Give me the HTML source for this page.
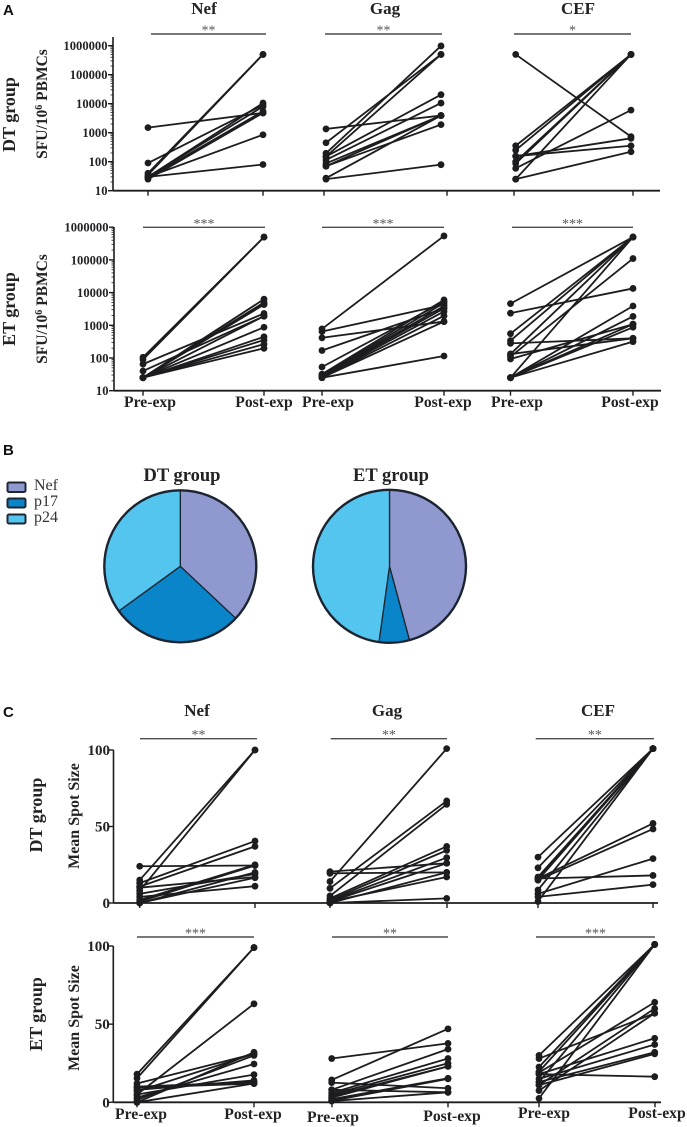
<!DOCTYPE html>
<html lang="en">
<head>
<meta charset="utf-8">
<title>T cell responses pre and post exposure</title>
<style>
html,body{margin:0;padding:0;background:#fff;}
svg{display:block;}
text{font-family:"Liberation Serif",serif;fill:#232326;}
.b{font-weight:bold;}
.letter{font-family:"Liberation Sans",sans-serif;font-weight:bold;font-size:15px;fill:#111;}
.star{font-size:14px;fill:#555;text-anchor:middle;}
.title{font-size:17px;font-weight:bold;text-anchor:middle;}
.group{font-size:18px;font-weight:bold;text-anchor:middle;}
.yl{font-size:15.5px;font-weight:bold;text-anchor:middle;}
.xl{font-size:15.7px;font-weight:bold;text-anchor:middle;}
.leg{font-size:16px;fill:#333;}
</style>
</head>
<body>
<svg id="fig" xmlns="http://www.w3.org/2000/svg" width="687" height="1127" viewBox="0 0 687 1127">
  <text class="letter" x="3" y="15">A</text>
  <text class="letter" x="3" y="455">B</text>
  <text class="letter" x="3" y="717">C</text>

  <text class="title" x="204" y="14">Nef</text>
  <text class="title" x="385" y="14">Gag</text>
  <text class="title" x="578" y="14">CEF</text>
  <text class="title" x="197" y="716">Nef</text>
  <text class="title" x="387" y="716">Gag</text>
  <text class="title" x="598" y="716">CEF</text>

  <text class="group" transform="translate(15 114.5) rotate(-90)">DT group</text>
  <text class="group" transform="translate(15 309) rotate(-90)">ET group</text>
  <text class="group" transform="translate(42 815) rotate(-90)">DT group</text>
  <text class="group" transform="translate(42 1014) rotate(-90)">ET group</text>

  <text class="yl" transform="translate(47 104) rotate(-90)">SFU/10<tspan font-size="10" dy="-5">6</tspan><tspan dy="5"> PBMCs</tspan></text>
  <text class="yl" transform="translate(47 309) rotate(-90)">SFU/10<tspan font-size="10" dy="-5">6</tspan><tspan dy="5"> PBMCs</tspan></text>
  <text class="yl" style="font-size:16px" transform="translate(79 816) rotate(-90)">Mean Spot Size</text>
  <text class="yl" style="font-size:16px" transform="translate(79 1018) rotate(-90)">Mean Spot Size</text>

  <text class="xl" x="150" y="407">Pre-exp</text>
  <text class="xl" x="264" y="407">Post-exp</text>
  <text class="xl" x="328" y="407">Pre-exp</text>
  <text class="xl" x="443" y="407">Post-exp</text>
  <text class="xl" x="517" y="407">Pre-exp</text>
  <text class="xl" x="630" y="407">Post-exp</text>
  <text class="xl" x="141" y="1119">Pre-exp</text>
  <text class="xl" x="253" y="1119">Post-exp</text>
  <text class="xl" x="333" y="1122">Pre-exp</text>
  <text class="xl" x="452" y="1121">Post-exp</text>
  <text class="xl" x="544" y="1118">Pre-exp</text>
  <text class="xl" x="657" y="1118">Post-exp</text>

  <text class="b" style="font-size:18.5px;text-anchor:middle" x="182" y="481">DT group</text>
  <text class="b" style="font-size:18.5px;text-anchor:middle" x="391" y="481">ET group</text>

  <rect x="7.5" y="482.5" width="18" height="9.5" rx="1.5" fill="#8f99cf" stroke="#1e2733" stroke-width="2"/>
  <rect x="7.5" y="498.5" width="18" height="9" rx="1.5" fill="#0a85c9" stroke="#1e2733" stroke-width="2"/>
  <rect x="7.5" y="514.5" width="18" height="9" rx="1.5" fill="#54c5ee" stroke="#1e2733" stroke-width="2"/>
  <text class="leg" x="34" y="490">Nef</text>
  <text class="leg" x="34" y="506">p17</text>
  <text class="leg" x="34" y="522">p24</text>
</svg>
<script>
// ---- chart data ----
const logTicks = [10, 100, 1000, 10000, 100000, 1000000];
const logTickLabels = ['10', '100', '1000', '10000', '100000', '1000000'];
const linTicks = [0, 50, 100];
const linTickLabels = ['0', '50', '100'];
const pieKeys = ['nef', 'p17', 'p24'];
const pieColors = ['#8f99cf', '#0a85c9', '#54c5ee'];
const pieDt = [37, 28, 35];
const pieEt = [45.8, 6.4, 47.8];

const aDtNefPre  = [1500, 90, 40, 35, 30, 30, 28, 25, 30, 30];
const aDtNefPost = [4800, 9000, 500000, 500000, 10500, 8000, 5500, 4800, 850, 80];
const aDtGagPre  = [1350, 450, 195, 150, 150, 115, 87, 70, 70, 27, 25];
const aDtGagPost = [3900, 500000, 980000, 500000, 20500, 10500, 3900, 3900, 1900, 3900, 79];
const aDtCefPre  = [500000, 355, 250, 155, 155, 100, 87, 59, 25, 25];
const aDtCefPost = [730, 500000, 500000, 640, 355, 500000, 500000, 6000, 500000, 220];

const aEtNefPre  = [105, 90, 65, 40, 25, 25, 25, 25, 25, 25, 25, 25, 25, 25];
const aEtNefPost = [500000, 500000, 2300, 1900, 6300, 5000, 4500, 4300, 1900, 870, 445, 355, 265, 198];
const aEtGagPre  = [775, 645, 415, 170, 53, 32, 30, 28, 27, 26, 25, 25, 25];
const aEtGagPost = [540000, 4200, 1300, 3300, 5300, 6000, 4800, 3900, 3300, 2650, 1950, 1300, 115];
const aEtCefPre  = [4600, 2350, 555, 340, 280, 132, 132, 110, 93, 25, 25, 25, 25, 25, 25];
const aEtCefPost = [500000, 13400, 500000, 500000, 400, 500000, 400, 110000, 1080, 500000, 3900, 1870, 1080, 870, 316];

const cDtNefPre  = [24, 15, 13, 10.7, 10, 8, 6, 4, 2, 1, 0, 0];
const cDtNefPost = [24.5, 100, 40.5, 37, 17, 100, 19, 11, 25, 24.5, 20, 16.5];
const cDtGagPre  = [20.5, 19.4, 14, 9.6, 4.6, 3, 2, 1.5, 1, 1, 0, 0];
const cDtGagPost = [26, 20, 100.9, 66.7, 64.5, 37, 34.4, 29.6, 26, 17, 3, 20];
const cDtCefPre  = [30, 23, 17, 16, 15, 8.5, 16, 15, 6, 16, 4, 1];
const cDtCefPost = [100.9, 100.9, 100.9, 100.9, 100.9, 100.9, 52, 48.4, 29, 18, 12, 100.9];

const cEtNefPre  = [18, 15.4, 12, 10, 9.4, 8, 7, 5, 5, 3, 1.5, 0, 0];
const cEtNefPost = [99, 99, 31, 13, 12, 14, 31, 63, 17.7, 24.5, 30, 32, 12];
const cEtGagPre  = [28, 14.3, 12.6, 8, 6, 5, 4, 3, 8, 2, 1, 0.8];
const cEtGagPost = [37.7, 47, 9, 34, 28, 25, 23, 23, 6.4, 15.4, 15, 6.4];
const cEtCefPre  = [30, 22.6, 19.6, 13, 2.5, 28, 18, 19, 11, 7.5, 18, 15, 13, 11];
const cEtCefPost = [101, 101, 101, 101, 101, 57, 16.4, 64, 60, 57, 41, 37, 32, 31];

// ---- drawing ----
const svg = document.getElementById('fig');
const NS = 'http://www.w3.org/2000/svg';
const INK = '#1d1d20';

function add(tag, attrs, parent) {
  const el = document.createElementNS(NS, tag);
  for (const k in attrs) el.setAttribute(k, attrs[k]);
  (parent || svg).appendChild(el);
  return el;
}
function logScale(y10, decade) {
  return v => y10 - (Math.log10(v) - 1) * decade;
}
function linScale(y0, perUnit) {
  return v => y0 - v * perUnit;
}

function drawLogAxis(name, xAxis, xEnd, top, y, tickXs) {
  const g = add('g', {});
  
  
  const yAxis = add('line', {x1: xAxis, x2: xAxis, y1: top, y2: y(10), stroke: INK, 'stroke-width': 1.6}, g);
  
  
  const xLine = add('line', {x1: xAxis, x2: xEnd, y1: y(10), y2: y(10), stroke: INK, 'stroke-width': 1.8}, g);
  
  
  logTicks.forEach((t, i) => {
    const tk = add('line', {x1: xAxis - 5, x2: xAxis, y1: y(t), y2: y(t), stroke: INK, 'stroke-width': 1.4}, g);
    
    
    const lb = add('text', {x: xAxis - 5.5, y: y(t) + 4.5, 'text-anchor': 'end', 'font-size': 12.6, 'font-weight': 'bold'}, g);
    lb.textContent = logTickLabels[i];
    
    
    if (i < logTicks.length - 1) {
      for (let m = 2; m < 10; m++) {
        const mk = add('line', {x1: xAxis - 2.5, x2: xAxis, y1: y(t * m), y2: y(t * m), stroke: INK, 'stroke-width': 0.8}, g);
        
        
      }
    }
  });
  tickXs.forEach(tx => {
    const tk = add('line', {x1: tx, x2: tx, y1: y(10), y2: y(10) + 5, stroke: INK, 'stroke-width': 1.4}, g);
    
    
  });
}

function drawLinAxis(name, xAxis, xEnd, y, tickXs) {
  const g = add('g', {});
  
  
  const yAxis = add('line', {x1: xAxis, x2: xAxis, y1: y(100), y2: y(0), stroke: INK, 'stroke-width': 1.6}, g);
  
  
  const xLine = add('line', {x1: xAxis, x2: xEnd, y1: y(0), y2: y(0), stroke: INK, 'stroke-width': 1.8}, g);
  
  
  linTicks.forEach((t, i) => {
    const tk = add('line', {x1: xAxis - 5, x2: xAxis, y1: y(t), y2: y(t), stroke: INK, 'stroke-width': 1.4}, g);
    
    
    const lb = add('text', {x: xAxis - 3.5, y: y(t) + 5, 'text-anchor': 'end', 'font-size': 15, 'font-weight': 'bold'}, g);
    lb.textContent = linTickLabels[i];
    
    
  });
  tickXs.forEach(tx => {
    const tk = add('line', {x1: tx, x2: tx, y1: y(0), y2: y(0) + 5, stroke: INK, 'stroke-width': 1.4}, g);
    
    
  });
}

function drawSeries(name, pre, post, xPre, xPost, y) {
  const g = add('g', {});
  
  
  pre.forEach((v, i) => {
    const l = add('line', {x1: xPre, y1: y(v), x2: xPost, y2: y(post[i]), stroke: INK, 'stroke-width': 1.8}, g);
    
    
  });
  pre.forEach((v, i) => {
    const a = add('circle', {cx: xPre, cy: y(v), r: 3.4, fill: INK}, g);
    
    
    const b = add('circle', {cx: xPost, cy: y(post[i]), r: 3.4, fill: INK}, g);
    
    
  });
}

function drawBracket(name, x1, x2, yb, stars) {
  const l = add('line', {x1: x1, x2: x2, y1: yb, y2: yb, stroke: '#4c4c4e', 'stroke-width': 1.4});
  
  
  const t = add('text', {x: (x1 + x2) / 2, y: yb + 0.5, class: 'star'});
  t.textContent = stars;
  
  
}

function drawPie(name, values, cx, cy, r) {
  const total = values.reduce((a, b) => a + b, 0);
  let acc = 0;
  values.forEach((v, i) => {
    const a0 = acc / total * 2 * Math.PI;
    acc += v;
    const a1 = acc / total * 2 * Math.PI;
    const large = a1 - a0 > Math.PI ? 1 : 0;
    const d = 'M' + cx + ' ' + cy +
      'L' + (cx + r * Math.sin(a0)) + ' ' + (cy - r * Math.cos(a0)) +
      'A' + r + ' ' + r + ' 0 ' + large + ' 1 ' + (cx + r * Math.sin(a1)) + ' ' + (cy - r * Math.cos(a1)) + 'Z';
    const p = add('path', {d: d, fill: pieColors[i], stroke: '#1c2430', 'stroke-width': 1.3, 'stroke-linejoin': 'round'});
    
    
  });
  const ring = add('circle', {cx: cx, cy: cy, r: r, fill: 'none', stroke: '#1c2430', 'stroke-width': 2.4});
  
  
}

// Panel A, DT row
const yA1 = logScale(190.7, 29);
drawLogAxis('a-dt', 113, 660, 37, yA1, [148, 263, 324, 447, 514, 633]);
drawSeries('a-dt-nef', aDtNefPre, aDtNefPost, 148, 263, yA1);
drawSeries('a-dt-gag', aDtGagPre, aDtGagPost, 326, 441, yA1);
drawSeries('a-dt-cef', aDtCefPre, aDtCefPost, 515.7, 631, yA1);
drawBracket('a-dt-nef', 151, 266, 34, '**');
drawBracket('a-dt-gag', 325, 442, 34, '**');
drawBracket('a-dt-cef', 514, 631, 34, '*');

// Panel A, ET row
const yA2 = logScale(390.7, 32.7);
drawLogAxis('a-et', 114, 661, 227, yA2, [143, 264, 322, 444, 510.5, 633]);
drawSeries('a-et-nef', aEtNefPre, aEtNefPost, 143, 264, yA2);
drawSeries('a-et-gag', aEtGagPre, aEtGagPost, 322, 444, yA2);
drawSeries('a-et-cef', aEtCefPre, aEtCefPost, 510.5, 633, yA2);
drawBracket('a-et-nef', 143, 265, 227.3, '***');
drawBracket('a-et-gag', 322, 444, 227.3, '***');
drawBracket('a-et-cef', 512, 633, 227.3, '***');

// Panel B
drawPie('pie-dt', pieDt, 180.3, 566.3, 76);
drawPie('pie-et', pieEt, 389.5, 566.3, 76.5);

// Panel C, DT row
const yC1 = linScale(903, 1.53);
drawLinAxis('c-dt', 113.5, 658, yC1, [139.7, 255, 330, 447, 538, 653]);
drawSeries('c-dt-nef', cDtNefPre, cDtNefPost, 139.7, 255, yC1);
drawSeries('c-dt-gag', cDtGagPre, cDtGagPost, 330, 446.7, yC1);
drawSeries('c-dt-cef', cDtCefPre, cDtCefPost, 538, 653, yC1);
drawBracket('c-dt-nef', 140, 257, 738.7, '**');
drawBracket('c-dt-gag', 330.7, 447, 738.7, '**');
drawBracket('c-dt-cef', 535.7, 654, 738.7, '**');

// Panel C, ET row
const yC2 = linScale(1102.3, 1.563);
drawLinAxis('c-et', 113.3, 661, yC2, [137, 254, 332, 448, 539, 655]);
drawSeries('c-et-nef', cEtNefPre, cEtNefPost, 137, 254, yC2);
drawSeries('c-et-gag', cEtGagPre, cEtGagPost, 331.7, 448, yC2);
drawSeries('c-et-cef', cEtCefPre, cEtCefPost, 539, 654.7, yC2);
drawBracket('c-et-nef', 137, 254, 937, '***');
drawBracket('c-et-gag', 332, 448, 937, '**');
drawBracket('c-et-cef', 536, 655, 937, '***');
</script>
</body>
</html>
